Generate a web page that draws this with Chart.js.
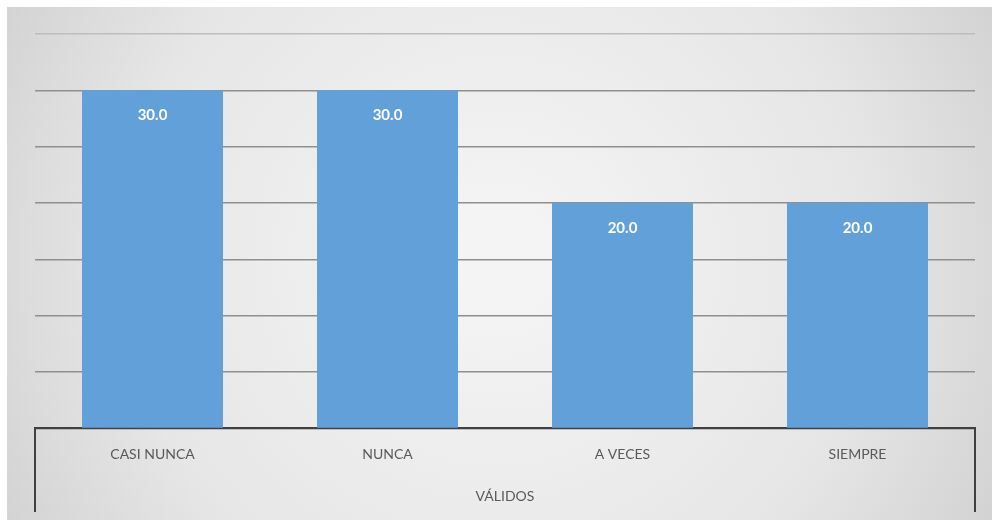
<!DOCTYPE html>
<html>
<head>
<meta charset="utf-8">
<script src="https://cdn.jsdelivr.net/npm/chart.js@4"></script>
<style>
  html, body { margin: 0; padding: 0; background: #fff; }
  #wrap { width: 992px; height: 520px; }
</style>
</head>
<body>
<div id="wrap"><canvas id="chart" width="992" height="520"></canvas></div>
<script>
const categories = ['CASI NUNCA', 'NUNCA', 'A VECES', 'SIEMPRE'];
const values = [30.0, 30.0, 20.0, 20.0];
const groupLabel = 'VÁLIDOS';
const yMax = 35;
const yStep = 5;

const FONT = 'Lato, "Open Sans", sans-serif';

// grey card behind the chart
const backdrop = {
  id: 'backdrop',
  beforeDraw(chart) {
    const { ctx, width, height } = chart;
    ctx.save();
    ctx.fillStyle = '#ffffff';
    ctx.fillRect(0, 0, width, height);
    const g = ctx.createRadialGradient(width / 2, height / 2, 40, width / 2, height / 2, width * 0.6);
    g.addColorStop(0, '#f4f4f4');
    g.addColorStop(0.6, '#e6e6e6');
    g.addColorStop(1, '#cfcfcf');
    ctx.fillStyle = g;
    ctx.fillRect(7, 7, width - 7, height - 7);
    ctx.restore();
  }
};

// box around the category labels
const groupBox = {
  id: 'groupBox',
  afterDraw(chart) {
    const { ctx, chartArea } = chart;
    ctx.save();
    ctx.strokeStyle = '#404040';
    ctx.lineWidth = 2;
    ctx.beginPath();
    ctx.moveTo(chartArea.left, chartArea.bottom);
    ctx.lineTo(chartArea.left, 512);
    ctx.moveTo(chartArea.right, chartArea.bottom);
    ctx.lineTo(chartArea.right, 512);
    ctx.stroke();
    ctx.restore();
  }
};

// value labels inside the top of each bar
const barLabels = {
  id: 'barLabels',
  afterDatasetsDraw(chart) {
    const { ctx } = chart;
    const meta = chart.getDatasetMeta(0);
    ctx.save();
    ctx.fillStyle = '#ffffff';
    ctx.font = 'bold 15px ' + FONT;
    ctx.textAlign = 'center';
    ctx.textBaseline = 'middle';
    meta.data.forEach((bar, i) => {
      ctx.fillText(values[i].toFixed(1), bar.x, bar.y + 25);
    });
    ctx.restore();
  }
};

new Chart(document.getElementById('chart'), {
  type: 'bar',
  data: {
    labels: categories,
    datasets: [{
      data: values,
      backgroundColor: '#62a0da',
      barPercentage: 0.6,
      categoryPercentage: 1.0
    }]
  },
  options: {
    responsive: false,
    animation: false,
    layout: { padding: { left: 35, right: 17, top: 34, bottom: 9 } },
    plugins: {
      legend: { display: false },
      tooltip: { enabled: false }
    },
    scales: {
      y: {
        min: 0,
        max: yMax,
        ticks: { display: false, stepSize: yStep },
        grid: {
          color: (c) => c.tick && c.tick.value === yMax ? '#bdbdbd' : '#8f8f8f',
          lineWidth: 1.5,
          drawTicks: false
        },
        border: { display: false }
      },
      x: {
        grid: { display: false },
        border: { color: '#404040', width: 2 },
        ticks: { color: '#595959', font: { family: FONT, size: 14 }, padding: 10 },
        title: {
          display: true,
          text: groupLabel,
          color: '#595959',
          font: { family: FONT, size: 14 },
          padding: { top: 15, bottom: 6 }
        }
      }
    }
  },
  plugins: [backdrop, groupBox, barLabels]
});
</script>
</body>
</html>
